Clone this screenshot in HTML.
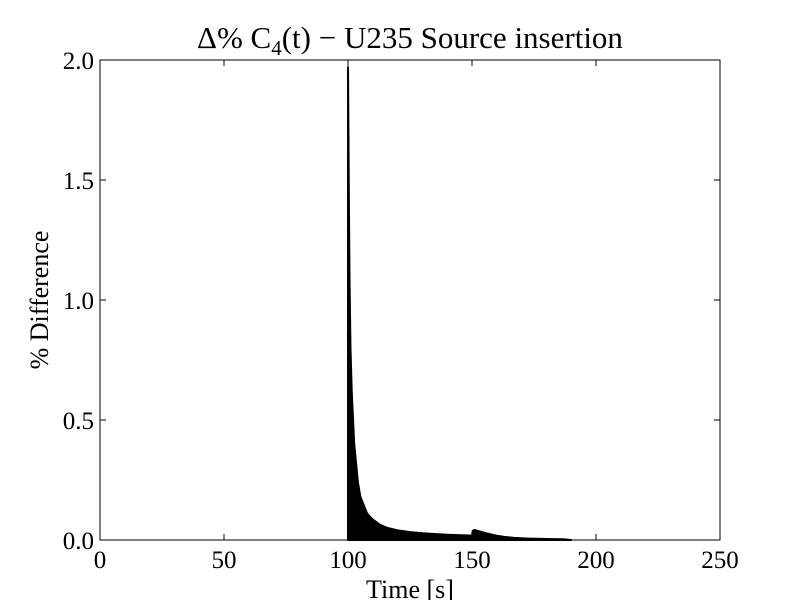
<!DOCTYPE html>
<html><head><meta charset="utf-8"><style>body{margin:0;background:#fff}svg{display:block}text{font-family:"Liberation Serif",serif;fill:#000}</style></head>
<body>
<svg id="c" width="800" height="600"></svg>
<script>
const times=[100,100.01,100.3,100.6,101,101.5,102.5,104,105,107.7,110,113,116,120,125,130,140,150,150.3,151,153,156,160,163,167,172,180,187,190];
const values=[0,1.97,1.5,1.1,0.8,0.62,0.4,0.24,0.18,0.11,0.085,0.063,0.05,0.04,0.033,0.028,0.022,0.018,0.038,0.042,0.036,0.027,0.018,0.013,0.009,0.006,0.004,0.003,0];
const xTicks=[0,50,100,150,200,250];
const yTicks=[0.0,0.5,1.0,1.5,2.0];
const NS="http://www.w3.org/2000/svg";
const svg=document.getElementById('c');
const L=100,R=720,T=60,B=540;
const xs=v=>L+(v-0)/250*(R-L);
const ys=v=>B-(v-0)/2*(B-T);
function el(tag,attrs,txt){const e=document.createElementNS(NS,tag);for(const k in attrs)e.setAttribute(k,attrs[k]);if(txt!==undefined)e.textContent=txt;svg.appendChild(e);return e;}
let d='M'+xs(times[0])+','+ys(0);
times.forEach((t,i)=>{d+=' L'+xs(t)+','+ys(values[i]);});
d+=' L'+xs(times[times.length-1])+','+ys(0)+' Z';
const area=el('path',{d:d,fill:'#000',stroke:'#000','stroke-width':2,'stroke-linejoin':'round'});


const frame=el('rect',{x:L,y:T,width:R-L,height:B-T,fill:'none',stroke:'#000','stroke-width':1});


xTicks.forEach(v=>{const x=xs(v);
el('line',{x1:x,x2:x,y1:B,y2:B-6,stroke:'#000'});el('line',{x1:x,x2:x,y1:T,y2:T+6,stroke:'#000'});
const t=el('text',{x:x,y:B+28,'text-anchor':'middle','font-size':25},String(v));

});
yTicks.forEach(v=>{const y=ys(v);
el('line',{x1:L,x2:L+6,y1:y,y2:y,stroke:'#000'});el('line',{x1:R,x2:R-6,y1:y,y2:y,stroke:'#000'});
const t=el('text',{x:L-6,y:y+9,'text-anchor':'end','font-size':25},v.toFixed(1));

});
const xt=el('text',{x:410,y:598,'text-anchor':'middle','font-size':26},'Time [s]');


const yt=el('text',{x:48,y:300,'text-anchor':'middle','font-size':26,transform:'rotate(-90 48 300)'},'% Difference');


const ti=el('text',{x:410,y:48,'text-anchor':'middle','font-size':31});
ti.innerHTML='Δ% C<tspan font-size="21" dy="7">4</tspan><tspan dy="-7">(t) − U235 Source insertion</tspan>';


</script>
</body></html>
